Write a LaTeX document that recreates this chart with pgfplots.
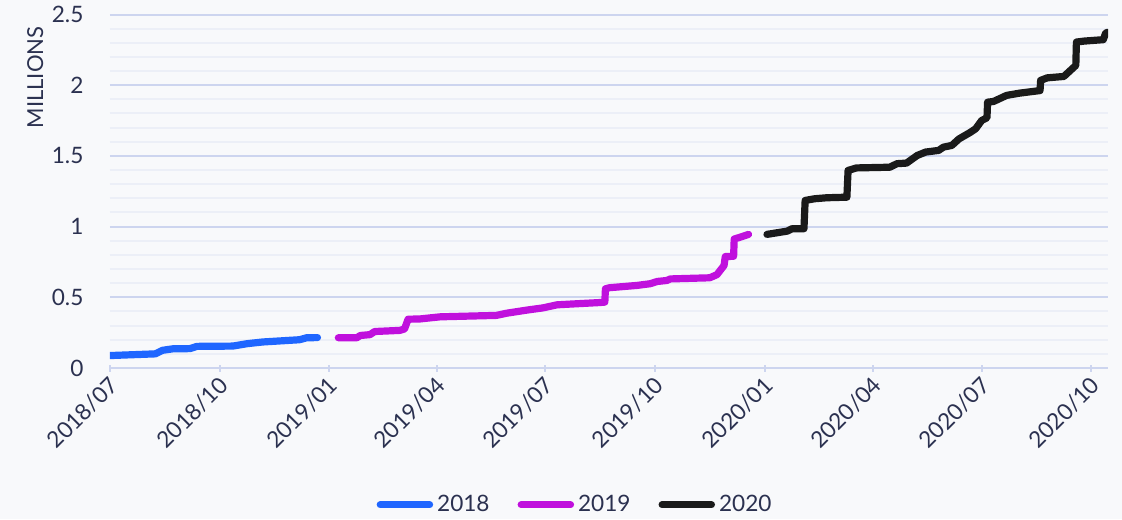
\documentclass[border=0pt]{standalone}
\usepackage{fontspec}
\setmainfont{Lato}
\usepackage{pgfplots}
\pgfplotsset{compat=1.18}
\definecolor{bg}{HTML}{F8F9FB}
\definecolor{majgrid}{HTML}{CDD5EF}
\definecolor{mingrid}{HTML}{ECEFF7}
\definecolor{txt}{HTML}{2B3150}
\definecolor{cA}{HTML}{1F66FF}
\definecolor{cB}{HTML}{C010DD}
\definecolor{cC}{HTML}{1A1A1A}
\begin{document}
\begin{tikzpicture}
\path[use as bounding box, fill=bg] (-55pt,-75.5pt) rectangle (506pt,184pt);
\begin{axis}[
  at={(0,0)}, anchor=south west,
  scale only axis, width=499pt, height=176.75pt,
  xmin=0, xmax=837, ymin=0, ymax=2.5,
  axis x line=bottom, axis y line=left,
  x axis line style={draw=majgrid, line width=1pt, -},
  y axis line style={draw=none},
  xtick={0,92,184,274,365,457,549,640,731,823},
  xticklabels={2018/07,2018/10,2019/01,2019/04,2019/07,2019/10,2020/01,2020/04,2020/07,2020/10},
  x tick style={draw=majgrid, line width=1pt},
  major tick length=3.5pt,
  xticklabel style={rotate=45, anchor=east, font=\fontsize{11.3}{13}\selectfont, text=txt, xshift=1.5pt, yshift=-5pt},
  ytick={0,0.5,1,1.5,2,2.5},
  yticklabels={0,0.5,1,1.5,2,2.5},
  minor ytick={0.1,0.2,0.3,0.4,0.6,0.7,0.8,0.9,1.1,1.2,1.3,1.4,1.6,1.7,1.8,1.9,2.1,2.2,2.3,2.4},
  y tick style={draw=none},
  yticklabel style={anchor=east, font=\fontsize{11.3}{13}\selectfont, text=txt, xshift=-8pt},
  ymajorgrids, yminorgrids,
  major grid style={draw=majgrid, line width=1pt},
  minor grid style={draw=mingrid, line width=1pt},
  ylabel={MILLIONS},
  ylabel style={at={(axis description cs:-0.075,0.822)}, anchor=center, font=\fontsize{11}{12}\selectfont, text=txt},
  legend style={at={(axis description cs:0.467,-0.387)}, anchor=center, draw=none, fill=none,
    font=\fontsize{11.3}{13}\selectfont, text=txt,
    /tikz/every even column/.append style={column sep=12pt}},
  legend columns=3,
  legend image code/.code={\draw[line width=3.5pt, line cap=round, #1] (1.75pt,0) -- (26.5pt,0);},
  every axis plot/.append style={line width=3.6pt, line join=round, line cap=round, mark=none},
]
\addplot[cA] coordinates {
(0,0.088)(38,0.100)(44,0.125)(53,0.136)(67,0.137)(73,0.153)(103,0.155)(115,0.172)(128,0.184)(159,0.200)(165,0.214)(174,0.215)
};
\addlegendentry{2018}
\addplot[cB] coordinates {
(191.5,0.214)(207,0.214)(210,0.230)(218,0.236)(222,0.258)(243,0.266)(247,0.276)(250,0.345)(260,0.347)(277,0.362)(324,0.372)(333,0.388)(350,0.410)(363,0.425)(375,0.447)(411,0.463)(415,0.466)(415.5,0.560)(419,0.568)(442,0.584)(453,0.596)(459,0.612)(467,0.619)(470,0.630)(503,0.638)(509,0.660)(515,0.725)(516,0.788)(523,0.790)(523.5,0.912)(528.5,0.925)(535.5,0.945)
};
\addlegendentry{2019}
\addplot[cC] coordinates {
(551,0.945)(568,0.968)(572,0.985)(582,0.985)(583,1.185)(591,1.197)(601,1.204)(618,1.208)(619,1.397)(626,1.415)(654,1.420)(660,1.445)(668,1.449)(677,1.503)(684,1.527)(695,1.539)(699,1.562)(706,1.574)(712,1.620)(721,1.664)(726,1.692)(731,1.750)(735.5,1.770)(736,1.880)(741,1.885)(752,1.928)(763,1.944)(780,1.962)(780.5,2.034)(786,2.052)(800,2.062)(810,2.140)(810.5,2.305)(817,2.312)(833,2.322)(835,2.368)(837,2.375)
};
\addlegendentry{2020}
\end{axis}
\end{tikzpicture}
\end{document}
